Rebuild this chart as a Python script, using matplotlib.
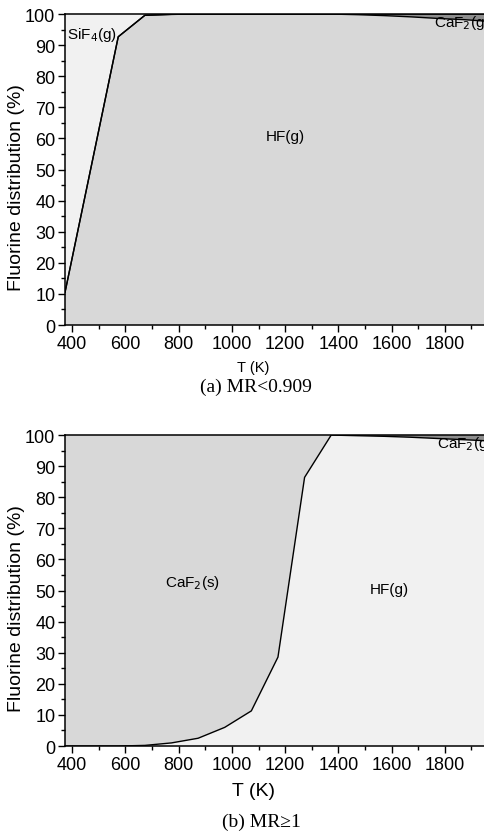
import matplotlib

matplotlib.use("Agg")
import matplotlib.pyplot as plt
from matplotlib.ticker import MultipleLocator

plt.rcParams["font.family"] = ["Liberation Sans", "DejaVu Sans"]

# temperature grid (K)
T = [373, 473, 573, 673, 773, 873, 973, 1073, 1173, 1273, 1373,
     1473, 1573, 1673, 1773, 1873, 1973]

# (a) MR<0.909 : fluorine distribution (%)
hf_a = [10.5, 51.6, 92.7, 99.6, 99.9, 100, 100, 100, 100, 100, 100,
        99.8, 99.5, 99.1, 98.6, 98.2, 97.6]
sif4_a = [89.5, 48.4, 7.3, 0.4, 0.1, 0, 0, 0, 0, 0, 0,
          0, 0, 0, 0, 0, 0]
caf2g_a = [0, 0, 0, 0, 0, 0, 0, 0, 0, 0, 0,
           0.2, 0.5, 0.9, 1.4, 1.8, 2.4]

# (b) MR>=1
hf_b = [0, 0, 0, 0.2, 1.0, 2.5, 6.0, 11.3, 28.6, 86.4, 100,
        99.8, 99.6, 99.3, 98.9, 98.5, 98.1]
caf2s_b = [100, 100, 100, 99.8, 99.0, 97.5, 94.0, 88.7, 71.4, 13.6, 0,
           0, 0, 0, 0, 0, 0]
caf2g_b = [0, 0, 0, 0, 0, 0, 0, 0, 0, 0, 0,
           0.2, 0.4, 0.7, 1.1, 1.5, 1.9]

LIGHT = "#f1f1f1"
MID = "#d8d8d8"
DARK = "#8e8e8e"

fig = plt.figure(figsize=(4.84, 8.37), dpi=100)
ax_a = fig.add_axes([0.1343, 0.6105, 0.880, 0.3715])
ax_b = fig.add_axes([0.1343, 0.1075, 0.880, 0.3715])


def style(ax, xlabel_size, xlabel_y):
    ax.set_xlim(373, 1973)
    ax.set_ylim(0, 100)
    ax.xaxis.set_major_locator(MultipleLocator(200))
    ax.xaxis.set_minor_locator(MultipleLocator(100))
    ax.yaxis.set_major_locator(MultipleLocator(10))
    ax.yaxis.set_minor_locator(MultipleLocator(5))
    ax.tick_params(which="major", direction="out", length=5, width=1, labelsize=13, pad=2)
    ax.tick_params(which="minor", direction="out", length=3, width=1)
    for s in ax.spines.values():
        s.set_linewidth(1.1)
    ax.set_xlabel("T (K)", fontsize=xlabel_size)
    ax.xaxis.set_label_coords(0.443, xlabel_y)
    ax.set_ylabel("Fluorine distribution (%)", fontsize=14)
    ax.yaxis.set_label_coords(-0.094, 0.444)


# panel (a)
ax_a.stackplot(T, hf_a, caf2g_a, sif4_a, colors=[MID, DARK, LIGHT], linewidth=0)
ax_a.plot(T, hf_a, color="black", lw=1)
top_a = [h + c for h, c in zip(hf_a, caf2g_a)]
ax_a.plot(T, top_a, color="black", lw=1)
style(ax_a, 10.5, -0.113)
ax_a.text(382, 93.5, "SiF$_4$(g)", fontsize=11, va="center", ha="left")
ax_a.text(1199, 60.8, "HF(g)", fontsize=11, va="center", ha="center")
ax_a.text(1758, 97.3, "CaF$_2$(g)", fontsize=11, va="center", ha="left")

# panel (b)
ax_b.stackplot(T, hf_b, caf2g_b, caf2s_b, colors=[LIGHT, DARK, MID], linewidth=0)
ax_b.plot(T, hf_b, color="black", lw=1)
style(ax_b, 14, -0.117)
ax_b.text(853, 52.7, "CaF$_2$(s)", fontsize=11, va="center", ha="center")
ax_b.text(1593, 50.5, "HF(g)", fontsize=11, va="center", ha="center")
ax_b.text(1769, 97.4, "CaF$_2$(g)", fontsize=11, va="center", ha="left")

fig.text(0.529, 0.5376, "(a) MR<0.909", fontsize=14, ha="center", va="center",
         family=["Liberation Serif", "DejaVu Serif"])
fig.text(0.54, 0.018, "(b) MR\u22651", fontsize=14, ha="center", va="center",
         family=["Liberation Serif", "DejaVu Serif"])

fig.savefig("out.png", dpi=100, facecolor="white")
